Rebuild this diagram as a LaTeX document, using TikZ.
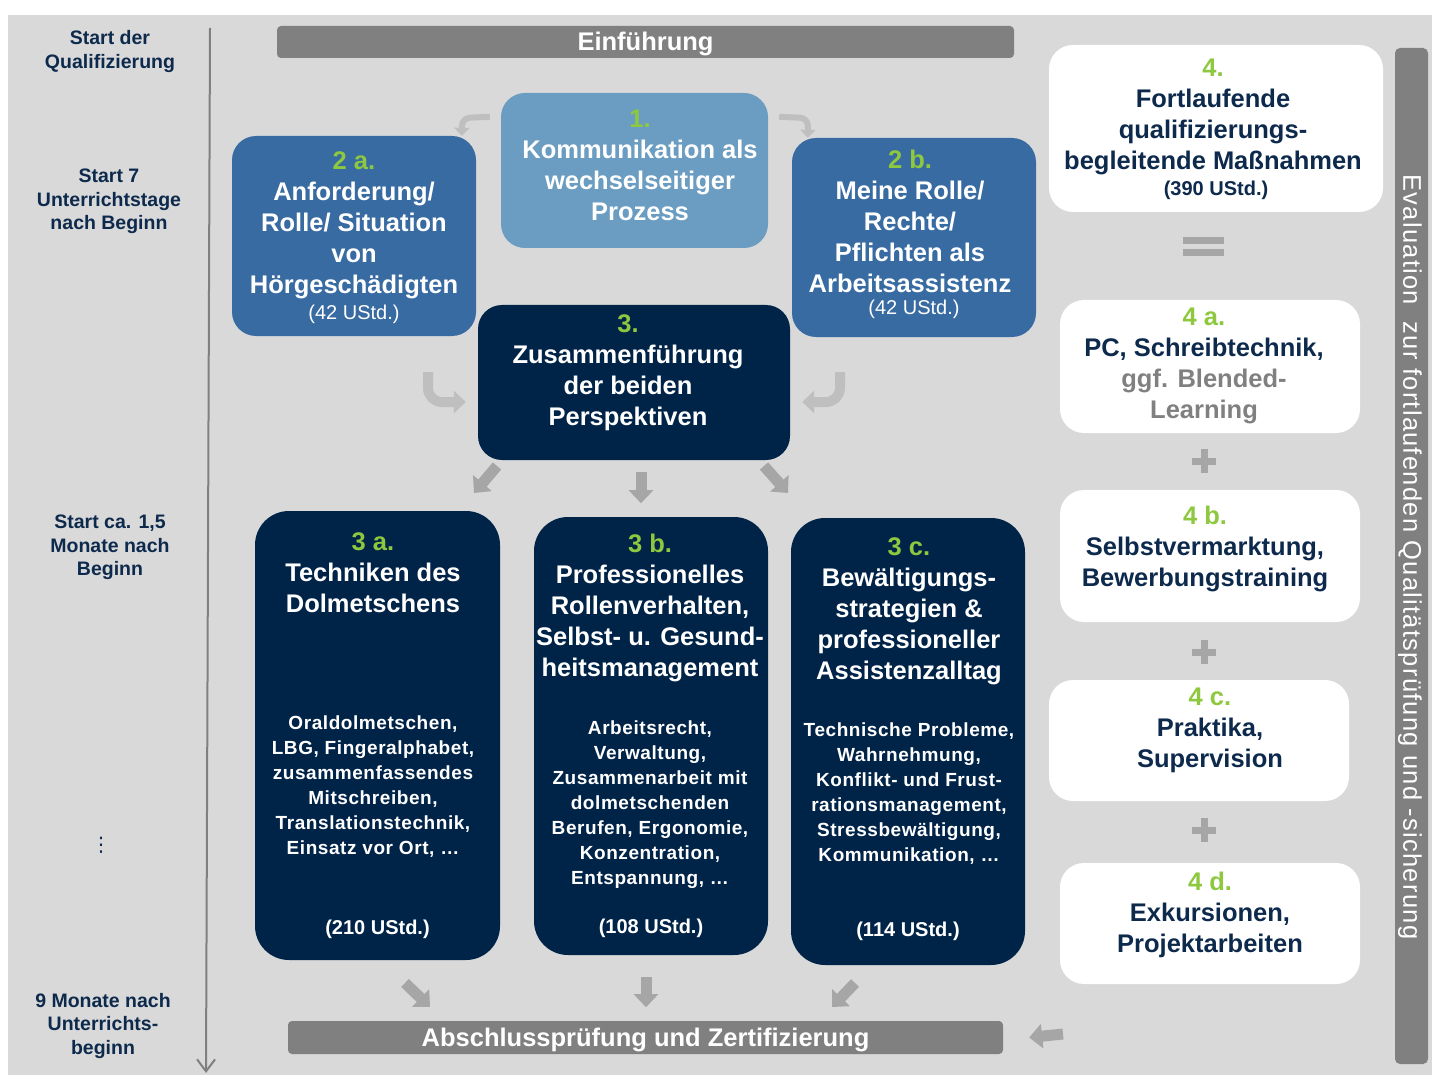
\documentclass[tikz,border=0pt]{standalone}
\usepackage{fontspec}
\setmainfont{Liberation Sans}
\newfontfamily\evalfont[LetterSpace=5]{Liberation Sans}
\newfontfamily\bodyfont[LetterSpace=3]{Liberation Sans}
\newfontfamily\dotsfont{DejaVu Sans}
\usetikzlibrary{arrows.meta, positioning}

\definecolor{bggray}{HTML}{D9D9D9}
\definecolor{bargray}{HTML}{808080}
\definecolor{arrowgray}{HTML}{A6A6A6}
\definecolor{lightarrow}{HTML}{BFBFBF}
\definecolor{navy}{HTML}{002348}
\definecolor{midblue}{HTML}{386BA2}
\definecolor{paleblue}{HTML}{6A9DC1}
\definecolor{navytext}{HTML}{0D2A4D}
\definecolor{numgreen}{HTML}{8DC83F}

\begin{document}
\begin{tikzpicture}[x=1pt, y=-1pt,
  panel/.style={rounded corners=24pt, inner sep=0pt},
  bigpanel/.style={rounded corners=34pt, inner sep=0pt, fill=navy},
  graybar/.style={fill=bargray, rounded corners=4pt, inner sep=0pt, text=white, text height=18pt, text depth=0pt, font=\fontsize{25.5}{31}\selectfont\bfseries},
  ttl/.style={align=center, text=white, font=\fontsize{25.5}{31}\selectfont\bfseries},
  darkttl/.style={align=center, text=navytext, font=\fontsize{25.5}{31}\selectfont\bfseries},
  bodytxt/.style={align=center, text=white, font=\fontsize{19}{25}\bodyfont\bfseries},
  hrs/.style={text=white, font=\fontsize{20}{24}\selectfont\bfseries},
  sidelabel/.style={align=center, text=navytext, font=\fontsize{19.5}{23.5}\selectfont\bfseries},
  blockarrow/.style={draw=arrowgray, line width=11pt, -{Triangle[length=13pt,width=24pt]}},
  curvearrow/.style={draw=lightarrow, line width=10pt, rounded corners=14pt, -{Triangle[length=12pt,width=22pt]}},
  elbowarrow/.style={draw=lightarrow, line width=6pt, rounded corners=8pt, -{Triangle[length=8pt,width=15pt]}},
  signbar/.style={fill=arrowgray, inner sep=0pt}]

\useasboundingbox (0,0) rectangle (1432,1075);
\fill[bggray] (8,15) rectangle (1432,1075);

% time line
\draw[bargray, line width=2pt, -{Straight Barb[length=12pt,width=18pt]}] (210,28) -- (206,1073);
\node[sidelabel] (t0) at (110,51.5) {Start der\\Qualifizierung};
\node[sidelabel] (t1) at (109,201.5) {Start 7\\Unterrichtstage\\nach Beginn};
\node[sidelabel] (t2) at (110,547.5) {Start ca. 1,5\\Monate nach\\Beginn};
\node[sidelabel, font=\fontsize{20}{24}\dotsfont] (t3) at (101,845) {⋮};
\node[sidelabel] (t4) at (103,1025.5) {9 Monate nach\\Unterrichts-\\beginn};

% bars
\node[graybar, minimum width=737, minimum height=32] (intro) at (645.5,42) {Einführung};
\node[graybar, minimum width=715, minimum height=33] (exam) at (645.5,1037.5) {Abschlussprüfung und Zertifizierung};
\node[fill=bargray, rounded corners=5pt, minimum width=33, minimum height=1016] (eval) at (1411.5,556) {};
\node[rotate=-90, text=white, font=\fontsize{25.5}{30}\evalfont] (evaltxt) at (1410,557)
  {Evaluation\ \ zur fortlaufenden Qualitätsprüfung und -sicherung};

% upper block
\node[panel, fill=paleblue, minimum width=267, minimum height=155] (p1) at (634.5,170.5) {};
\node[panel, fill=midblue, minimum width=244, minimum height=200] (p2a) at (354,236) {};
\node[panel, fill=midblue, minimum width=244, minimum height=199] (p2b) at (914,237.5) {};
\node[panel, fill=navy, minimum width=312, minimum height=155] (p3) at (634,382.5) {};

\node[ttl] (p1txt) at (640,165) {\textcolor{numgreen}{1.}\\Kommunikation als\\wechselseitiger\\Prozess};
\node[ttl] (p2atxt) at (354,225) {\textcolor{numgreen}{2 a.}\\Anforderung/\\Rolle/ Situation\\von\\Hörgeschädigten};
\node[hrs, font=\fontsize{20}{24}\selectfont] (p2ahrs) at ([yshift=22pt]p2a.south) {(42 UStd.)};
\node[ttl] (p2btxt) at (910,221) {\textcolor{numgreen}{2 b.}\\Meine Rolle/\\Rechte/\\Pflichten als\\Arbeitsassistenz};
\node[hrs, font=\fontsize{20}{24}\selectfont] (p2bhrs) at ([yshift=27.5pt]p2b.south) {(42 UStd.)};
\node[ttl] (p3txt) at (628,373) {\textcolor{numgreen}{3.}\\Zusammenführung\\der beiden\\Perspektiven};

% lower block
\node[bigpanel, minimum width=245, minimum height=449] (p3a) at (377.5,735.5) {};
\node[bigpanel, minimum width=234, minimum height=438] (p3b) at (651,736) {};
\node[bigpanel, minimum width=234, minimum height=447] (p3c) at (908,741.5) {};

\node[ttl] (p3ahead) at (373,573) {\textcolor{numgreen}{3 a.}\\Techniken des\\Dolmetschens};
\node[bodytxt] (p3abody) at (373,787) {Oraldolmetschen,\\LBG, Fingeralphabet,\\zusammenfassendes\\Mitschreiben,\\Translationstechnik,\\Einsatz vor Ort, \dots};
\node[hrs] (p3ahrs) at ([yshift=31pt]p3a.south) {(210 UStd.)};

\node[ttl] (p3bhead) at (650,608) {\textcolor{numgreen}{3 b.}\\Professionelles\\Rollenverhalten,\\Selbst- u. Gesund-\\heitsmanagement};
\node[bodytxt] (p3bbody) at (650,804.5) {Arbeitsrecht,\\Verwaltung,\\Zusammenarbeit mit\\dolmetschenden\\Berufen, Ergonomie,\\Konzentration,\\Entspannung, \dots};
\node[hrs] (p3bhrs) at ([yshift=27pt]p3b.south) {(108 UStd.)};

\node[ttl] (p3chead) at (909,611.5) {\textcolor{numgreen}{3 c.}\\Bewältigungs-\\strategien \&\\professioneller\\Assistenzalltag};
\node[bodytxt] (p3cbody) at (909,794) {Technische Probleme,\\Wahrnehmung,\\Konflikt- und Frust-\\rationsmanagement,\\Stressbewältigung,\\Kommunikation, \dots};
\node[hrs] (p3chrs) at ([yshift=34pt]p3c.south) {(114 UStd.)};

% right column
\node[panel, fill=white, minimum width=334, minimum height=167] (p4) at (1216,128.5) {};
\node[darkttl] (p4txt) at (1213,117) {\textcolor{numgreen}{4.}\\Fortlaufende\\qualifizierungs-\\begleitende Maßnahmen};
\node[hrs, text=navytext] (p4hrs) at ([yshift=22pt]p4.south) {(390 UStd.)};

\node[panel, fill=white, minimum width=300, minimum height=133] (p4a) at (1210,366.5) {};
\node[darkttl] (p4atxt) at (1204,366) {\textcolor{numgreen}{4 a.}\\PC, Schreibtechnik,\\\textcolor{bargray}{ggf. Blended-}\\\textcolor{bargray}{Learning}};
\node[panel, fill=white, minimum width=300, minimum height=132] (p4b) at (1210,556) {};
\node[darkttl] (p4btxt) at (1205,549) {\textcolor{numgreen}{4 b.}\\Selbstvermarktung,\\Bewerbungstraining};
\node[panel, fill=white, minimum width=300, minimum height=121] (p4c) at (1199,740.5) {};
\node[darkttl] (p4ctxt) at (1210,730) {\textcolor{numgreen}{4 c.}\\Praktika,\\Supervision};
\node[panel, fill=white, minimum width=300, minimum height=121] (p4d) at (1210,923.5) {};
\node[darkttl] (p4dtxt) at (1210,915) {\textcolor{numgreen}{4 d.}\\Exkursionen,\\Projektarbeiten};

% equal and plus signs
\node[signbar, minimum width=41, minimum height=7] (eqa) at (1203.5,240.5) {};
\node[signbar, minimum width=41, minimum height=7] (eqb) at (1203.5,252.5) {};
\foreach \y/\n in {461/pa, 652/pb, 830/pc} {
  \node[signbar, minimum width=24, minimum height=7] (\n h) at (1204,\y) {};
  \node[signbar, minimum width=7, minimum height=24] (\n v) at (1204,\y) {};
}

% arrows
\draw[elbowarrow] ([xshift=-11pt,yshift=-24pt]p1.north west) -- (462,118) -- ([xshift=230pt]p2a.north west);
\draw[elbowarrow] ([xshift=11pt,yshift=-24pt]p1.north east) -- (808,118) -- ([xshift=16pt]p2b.north west);
\draw[curvearrow] (428,372) -- (428,402) -- ([xshift=-12pt,yshift=-19.5pt]p3.west);
\draw[curvearrow] (840,372) -- (840,402) -- ([xshift=12pt,yshift=-19.5pt]p3.east);

\draw[blockarrow] (497,466) -- (474,493);
\draw[blockarrow] ([xshift=7pt,yshift=-12pt]p3.south) -- ++(0,31);
\draw[blockarrow] (764,466) -- (788,493);

\draw[blockarrow] (405,983) -- (430,1007);
\draw[blockarrow] ([xshift=-5pt,yshift=-22pt]p3b.south) -- ++(0,30);
\draw[blockarrow] (855,983) -- (832,1007);
\draw[blockarrow] (1063,1034) -- ([xshift=26pt]exam.east);

\end{tikzpicture}
\end{document}
